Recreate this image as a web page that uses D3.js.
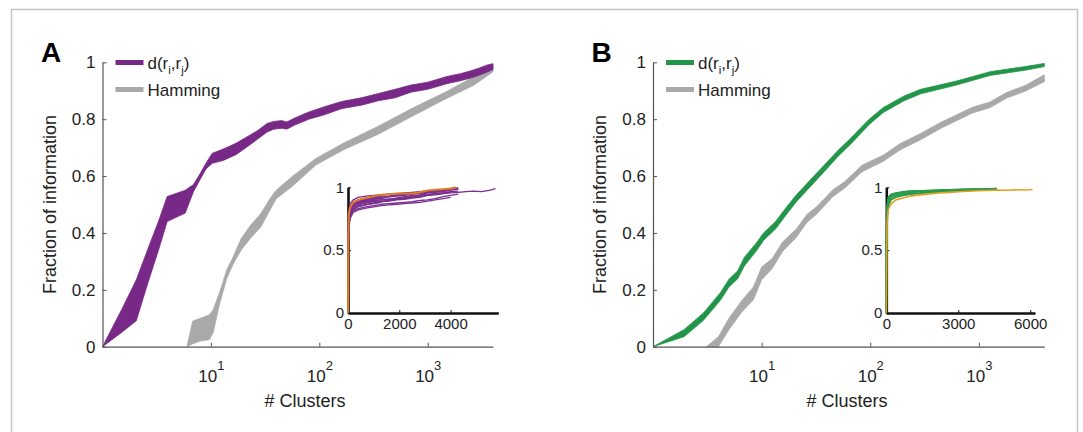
<!DOCTYPE html>
<html><head><meta charset="utf-8">
<script src="https://cdn.jsdelivr.net/npm/d3@7"></script>
<style>
body{margin:0;background:#fff}
svg{display:block}
text{font-family:"Liberation Sans",Arial,Helvetica,sans-serif}
</style>
</head><body>
<svg id="chart" width="1083" height="432"></svg>
<script>
// ---------------- data ----------------
const yTicks = [0, 0.2, 0.4, 0.6, 0.8, 1];
const yTickLabels = ["0", "0.2", "0.4", "0.6", "0.8", "1"];
const xTicks = [10, 100, 1000];
const xTickExp = ["1", "2", "3"];
const insetYTicks = [0, 0.5, 1];
const insetYTickLabels = ["0", "0.5", "1"];
const insetAXTicks = [0, 2000, 4000];
const insetBXTicks = [0, 3000, 6000];
const legendLabels = ["d(r_i,r_j)", "Hamming"];
const panelLetters = ["A", "B"];

// Panel A, d(ri,rj) band
const aDistX  = [1, 1.5, 2.05, 2.6, 3.3, 3.95, 5.8, 6.9, 8.0, 9.0, 10.3, 13, 17, 22, 27, 33, 38, 45, 50, 60, 80, 110, 160, 250, 350, 500, 700, 1000, 1500, 2000, 2500, 3000, 3500, 4000];
const aDistLo = [0, 0.05, 0.091, 0.22, 0.342, 0.44, 0.47, 0.545, 0.59, 0.625, 0.645, 0.655, 0.675, 0.705, 0.73, 0.755, 0.765, 0.768, 0.765, 0.78, 0.8, 0.815, 0.837, 0.85, 0.865, 0.875, 0.895, 0.905, 0.925, 0.935, 0.945, 0.955, 0.965, 0.975];
const aDistHi = [0, 0.13, 0.235, 0.34, 0.443, 0.528, 0.55, 0.57, 0.61, 0.645, 0.68, 0.695, 0.715, 0.74, 0.76, 0.785, 0.792, 0.795, 0.79, 0.805, 0.825, 0.843, 0.862, 0.876, 0.89, 0.905, 0.92, 0.93, 0.95, 0.96, 0.97, 0.98, 0.99, 0.995];
// Panel A, Hamming band
const aHamX  = [6.0, 6.8, 8.0, 9.7, 10.5, 12, 14, 16, 19, 23, 29, 35, 40, 56, 93, 166, 345, 718, 1490, 2680, 4000];
const aHamLo = [0, 0.01, 0.02, 0.025, 0.05, 0.15, 0.24, 0.29, 0.34, 0.38, 0.422, 0.48, 0.52, 0.563, 0.639, 0.692, 0.746, 0.81, 0.873, 0.92, 0.967];
const aHamHi = [0, 0.09, 0.1, 0.112, 0.13, 0.19, 0.27, 0.315, 0.38, 0.425, 0.469, 0.52, 0.55, 0.598, 0.662, 0.715, 0.774, 0.838, 0.897, 0.95, 0.99];
// Panel B, d(ri,rj) band
const bDistX  = [1, 1.93, 2.9, 4.17, 5.0, 6.0, 6.96, 9.0, 10.4, 13.5, 16.7, 20.9, 28, 37.6, 50.4, 67.6, 97.6, 131, 203, 291, 608, 1270, 2660, 4000];
const bDistLo = [0, 0.035, 0.092, 0.163, 0.21, 0.238, 0.285, 0.338, 0.373, 0.415, 0.462, 0.51, 0.562, 0.615, 0.669, 0.716, 0.781, 0.823, 0.864, 0.889, 0.919, 0.954, 0.972, 0.985];
const bDistHi = [0, 0.06, 0.118, 0.19, 0.237, 0.266, 0.315, 0.366, 0.4, 0.441, 0.488, 0.534, 0.586, 0.638, 0.69, 0.737, 0.8, 0.84, 0.881, 0.905, 0.933, 0.967, 0.985, 0.996];
// Panel B, Hamming band
const bHamX  = [3.1, 4.0, 5.0, 6.5, 8.4, 10.0, 12.5, 15.6, 20.9, 26.1, 32.5, 45, 58, 84, 131, 188, 291, 452, 874, 1260, 1820, 2660, 4000];
const bHamLo = [0, 0.0, 0.06, 0.12, 0.165, 0.235, 0.275, 0.335, 0.385, 0.437, 0.468, 0.527, 0.557, 0.615, 0.651, 0.692, 0.728, 0.769, 0.822, 0.84, 0.875, 0.898, 0.932];
const bHamHi = [0, 0.035, 0.1, 0.16, 0.21, 0.28, 0.31, 0.368, 0.414, 0.465, 0.494, 0.551, 0.58, 0.638, 0.673, 0.714, 0.75, 0.79, 0.842, 0.86, 0.895, 0.918, 0.956];

// Inset A: individual curves (x grid shared, lines end at different lengths)
const insetAX = [0, 10, 30, 80, 200, 400, 700, 1000, 1300, 1600, 1900, 2200, 2500, 2800, 3100, 3400, 3700, 4000, 4300];
const insetALines = [
  [0, .62, .80, .87, .90, .92, .93, .935, .94, .945, .95, .955, .96, .965, .97, .975, .98, .99, .995],
  [0, .58, .78, .85, .885, .90, .915, .925, .93, .93, .94, .945, .95, .955, .96, .965, .975, .98],
  [0, .55, .76, .83, .87, .885, .90, .91, .915, .925, .93, .935, .945, .95, .96, .965, .97, .98],
  [0, .50, .72, .80, .85, .87, .88, .895, .90, .905, .91, .92, .925, .935, .945, .95, .955, .965, .97],
  [0, .48, .70, .78, .83, .85, .865, .875, .885, .89, .90, .905, .915, .92, .935, .94, .95, .96],
  [0, .45, .68, .76, .81, .83, .845, .855, .865, .87, .875, .88, .885, .895, .90, .91, .925, .935, .945],
  [0, .42, .66, .75, .80, .82, .835, .845, .855, .86, .865, .87, .875, .88, .89, .90, .91, .92],
  [0, .52, .74, .82, .86, .88, .89, .905, .91, .90, .915, .925, .935, .94, .955, .96, .965, .975, .985],
  [0, .47, .71, .79, .84, .86, .875, .885, .89, .895, .905, .91, .92, .93, .94, .945, .955],
  [0, .56, .77, .84, .875, .89, .905, .915, .92, .925, .935, .94, .95, .96, .965, .97, .975, .985, .99],
  [0, .53, .75, .815, .855, .875, .895, .91],
  [0, .44, .69, .77, .82, .845, .86, .87, .88]
];
const insetALongX = [0, 10, 30, 80, 200, 400, 700, 1000, 1300, 1600, 1900, 2200, 2500, 2800, 3100, 3400, 3700, 4000, 4300, 4600, 4900, 5200, 5500, 5750];
const insetALongY = [0, .5, .73, .81, .85, .87, .885, .895, .90, .905, .91, .915, .925, .93, .935, .945, .95, .955, .96, .965, .97, .965, .975, .99];
const insetAOrangeX = [0, 10, 30, 80, 200, 400, 700, 1000, 1300, 1600, 1900, 2200, 2500, 2800, 3100, 3400, 3700, 4000, 4200];
const insetAOrangeY = [0, .6, .78, .84, .88, .90, .915, .93, .94, .945, .95, .95, .95, .96, .975, .98, .985, .99, 1.0];

// Inset B
const insetBX = [0, 10, 30, 80, 200, 400, 700, 1000, 1400, 1800, 2200, 2600, 3000, 3400, 3800, 4200, 4600];
const insetBLines = [
  [0, .60, .82, .90, .935, .95, .96, .965, .97, .972, .975, .978, .98, .982, .985, .987, .99],
  [0, .55, .78, .87, .91, .93, .94, .95, .955, .96, .965, .97, .972, .975, .978, .98, .985],
  [0, .65, .85, .92, .945, .955, .965, .97, .972, .975, .978, .98, .982, .985, .985, .988],
  [0, .50, .75, .85, .90, .92, .935, .945, .95, .958, .962, .968, .97, .974, .978, .982, .984],
  [0, .58, .80, .89, .925, .94, .95, .958, .965, .97, .97, .975, .978, .98, .983, .986, .99],
  [0, .62, .83, .91, .94, .952, .962, .968, .97, .974, .976, .98, .982, .984, .986]
];
const insetBOrangeX = [0, 10, 30, 80, 200, 400, 700, 1000, 1400, 1800, 2200, 2600, 3000, 3400, 3800, 4200, 4600, 5000, 5400, 5800, 6100];
const insetBOrangeY = [0, .45, .70, .82, .87, .90, .915, .93, .94, .948, .955, .96, .965, .968, .972, .975, .978, .976, .98, .978, .982];

// ---------------- drawing ----------------
const svg = d3.select("#chart");
const FONT = '"Liberation Sans", Arial, Helvetica, sans-serif';

// outer frame (left, top, right)
svg.append("path")
  .attr("d", "M11.5,440V9.5H1077.5V440")
  .attr("fill", "none").attr("stroke", "#c4c4c4").attr("stroke-width", 1.5);

const panels = [
  {
    letter: panelLetters[0], color: "#782887",
    ax0: 102.5, ax1: 493, xLabelX: 305,
    bands: [
      {x: aHamX, lo: aHamLo, hi: aHamHi, color: "#a9a9a9"},
      {x: aDistX, lo: aDistLo, hi: aDistHi, color: "#782887"}
    ],
    inset: {
      x0: 348, x1: 498.3, xmax: 5860, xTicks: insetAXTicks,
      lines: insetALines.map(ys => ys.map((v, i) => [insetAX[i], v])).concat([insetALongY.map((v, i) => [insetALongX[i], v])]),
      lineColor: "#7a2f8e", lineWidth: 1.3,
      orange: insetAOrangeY.map((v, i) => [insetAOrangeX[i], v]), orangeColor: "#e07a26", orangeWidth: 2
    }
  },
  {
    letter: panelLetters[1], color: "#23954a",
    ax0: 653, ax1: 1044.3, xLabelX: 847,
    bands: [
      {x: bHamX, lo: bHamLo, hi: bHamHi, color: "#a9a9a9"},
      {x: bDistX, lo: bDistLo, hi: bDistHi, color: "#23954a"}
    ],
    inset: {
      x0: 886.3, x1: 1035, xmax: 6200, xTicks: insetBXTicks,
      lines: insetBLines.map(ys => ys.map((v, i) => [insetBX[i], v])),
      lineColor: "#2a9a4c", lineWidth: 1.5,
      orange: insetBOrangeY.map((v, i) => [insetBOrangeX[i], v]), orangeColor: "#e4a021", orangeWidth: 1.6
    }
  }
];

const yTop = 62.3, yBot = 346.7;

panels.forEach(p => {
  const g = svg.append("g");
  const x = d3.scaleLog().domain([1, 4000]).range([p.ax0, p.ax1]);
  const y = d3.scaleLinear().domain([0, 1]).range([yBot, yTop]);

  // bands
  const area = d3.area().x(d => x(d.x)).y0(d => y(d.lo)).y1(d => y(d.hi));
  p.bands.forEach(b => {
    const data = b.x.map((v, i) => ({x: v, lo: b.lo[i], hi: b.hi[i]}));
    g.append("path").datum(data).attr("d", area)
      .attr("fill", b.color).attr("stroke", b.color).attr("stroke-width", 0.8)
      .attr("stroke-linejoin", "round");
  });

  // y axis
  const yAxis = d3.axisLeft(y).tickValues(yTicks)
    .tickFormat((d, i) => yTickLabels[i]).tickSizeInner(-4).tickSizeOuter(0).tickPadding(7);
  const gy = g.append("g").attr("transform", `translate(${p.ax0},0)`).call(yAxis);
  gy.select(".domain").attr("stroke", "#555").attr("stroke-width", 1.2);
  gy.selectAll(".tick line").attr("stroke", "#555");
  gy.selectAll(".tick text").attr("font-size", 17).attr("fill", "#222").attr("font-family", FONT);

  // x axis
  const xAxis = d3.axisBottom(x).tickValues(xTicks).tickFormat("")
    .tickSizeInner(-4).tickSizeOuter(0);
  const gx = g.append("g").attr("transform", `translate(0,${yBot})`).call(xAxis);
  gx.select(".domain").attr("stroke", "#555").attr("stroke-width", 1.2);
  gx.selectAll(".tick line").attr("stroke", "#555");
  gx.selectAll(".tick text").remove();
  gx.selectAll(".tick").each(function(d, i) {
    const t = d3.select(this).append("text")
      .attr("y", 35).attr("text-anchor", "middle").attr("fill", "#222")
      .attr("font-size", 17).attr("font-family", FONT);
    t.append("tspan").text("10");
    t.append("tspan").attr("dy", -12).attr("font-size", 13).text(xTickExp[i]);
  });

  // axis labels
  g.append("text").attr("x", p.xLabelX).attr("y", 407).attr("text-anchor", "middle")
    .attr("font-size", 18).attr("fill", "#222").text("# Clusters");
  g.append("text").attr("transform", `translate(${p.ax0 - 47},${(yTop + yBot) / 2}) rotate(-90)`)
    .attr("text-anchor", "middle").attr("font-size", 18).attr("fill", "#222")
    .text("Fraction of information");

  // panel letter
  g.append("text").attr("x", p.ax0 - 61.5).attr("y", 62).attr("font-size", 28)
    .attr("font-weight", "bold").attr("fill", "#000").text(p.letter);

  // legend
  const lx0 = p.ax0 + 13, lx1 = p.ax0 + 41;
  const legendColors = [p.color, "#a9a9a9"];
  const legendY = [62.5, 89.5];
  legendColors.forEach((c, i) => {
    g.append("line").attr("x1", lx0).attr("x2", lx1).attr("y1", legendY[i]).attr("y2", legendY[i])
      .attr("stroke", c).attr("stroke-width", 5);
  });
  const t1 = g.append("text").attr("x", lx1 + 4).attr("y", legendY[0] + 6)
    .attr("font-size", 17).attr("fill", "#222");
  // "d(r_i,r_j)" with subscripts
  const parts = legendLabels[0].match(/[^_]+|_./g);
  let lowered = false;
  parts.forEach(s => {
    if (s.startsWith("_")) {
      t1.append("tspan").attr("dy", 5).attr("font-size", 11.5).text(s.slice(1));
      lowered = true;
    } else {
      const ts = t1.append("tspan").text(s);
      if (lowered) { ts.attr("dy", -5); lowered = false; }
    }
  });
  g.append("text").attr("x", lx1 + 4).attr("y", legendY[1] + 6)
    .attr("font-size", 17).attr("fill", "#222").text(legendLabels[1]);

  // ---- inset ----
  const ins = p.inset;
  const ix = d3.scaleLinear().domain([0, ins.xmax]).range([ins.x0, ins.x1]);
  const iy = d3.scaleLinear().domain([0, 1]).range([313, 187.3]);
  const ig = g.append("g");

  const iyAxis = d3.axisLeft(iy).tickValues(insetYTicks).tickFormat((d, i) => insetYTickLabels[i])
    .tickSizeInner(-3).tickSizeOuter(0).tickPadding(4);
  const igy = ig.append("g").attr("transform", `translate(${ins.x0},0)`).call(iyAxis);
  igy.select(".domain").attr("stroke", "#111").attr("stroke-width", 2.6);
  igy.selectAll(".tick line").attr("stroke", "#111");
  igy.selectAll(".tick text").attr("font-size", 15).attr("fill", "#222").attr("font-family", FONT);

  const ixAxis = d3.axisBottom(ix).tickValues(ins.xTicks).tickFormat(d => String(d))
    .tickSizeInner(-3).tickSizeOuter(0).tickPadding(5);
  const igx = ig.append("g").attr("transform", `translate(0,313)`).call(ixAxis);
  igx.select(".domain").attr("stroke", "#111").attr("stroke-width", 2.6);
  igx.selectAll(".tick line").attr("stroke", "#111");
  igx.selectAll(".tick text").attr("font-size", 15).attr("fill", "#222").attr("font-family", FONT);

  const line = d3.line().x(d => ix(d[0])).y(d => iy(d[1]));
  ins.lines.forEach(l => {
    ig.append("path").datum(l).attr("d", line).attr("fill", "none")
      .attr("stroke", ins.lineColor).attr("stroke-width", ins.lineWidth).attr("stroke-linejoin", "round");
  });
  ig.append("path").datum(ins.orange).attr("d", line).attr("fill", "none")
    .attr("stroke", ins.orangeColor).attr("stroke-width", ins.orangeWidth).attr("stroke-linejoin", "round");
});
</script>
</body></html>
